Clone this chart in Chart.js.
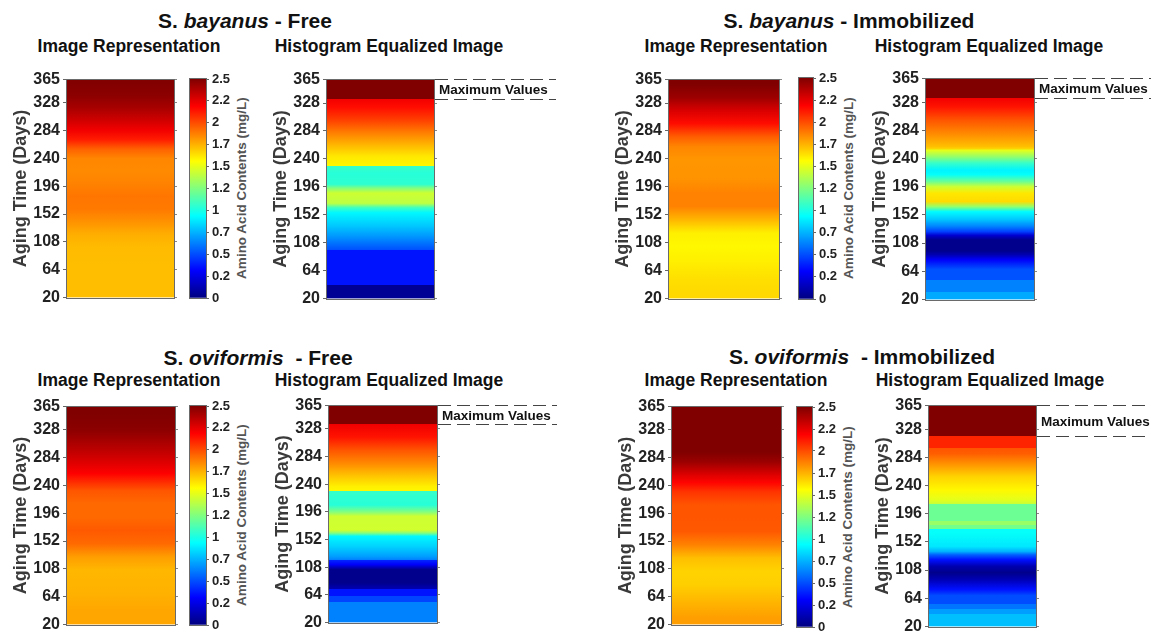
<!DOCTYPE html>
<html><head><meta charset="utf-8">
<script src="https://cdn.jsdelivr.net/npm/chart.js@4/dist/chart.umd.min.js"></script>
<style>
html,body{margin:0;padding:0;background:#fff;width:1151px;height:634px;overflow:hidden;position:relative;font-family:'Liberation Sans',Arial,sans-serif;}
canvas{position:absolute;}
.t{position:absolute;white-space:nowrap;transform:translate(-50%,-50%);line-height:1;font-weight:bold;color:#111;}
.g{font-size:21px;}
.s{font-size:17.5px;}
.cbl{position:absolute;white-space:nowrap;transform:translate(-50%,-50%) rotate(-90deg);font-weight:bold;font-size:13.5px;color:#555;line-height:1;}
</style></head><body>
<div class="t g" style="left:245px;top:20px">S. <i>bayanus</i> - Free</div>
<div class="t g" style="left:849px;top:20px">S. <i>bayanus</i> - Immobilized</div>
<div class="t g" style="left:258px;top:357px">S. <i style="margin-right:6px">oviformis</i> - Free</div>
<div class="t g" style="left:862px;top:356px">S. <i style="margin-right:6px">oviformis</i> - Immobilized</div>
<div class="t s" style="left:129px;top:47px">Image Representation</div>
<div class="t s" style="left:389px;top:47px">Histogram Equalized Image</div>
<div class="t s" style="left:736px;top:47px">Image Representation</div>
<div class="t s" style="left:989px;top:47px">Histogram Equalized Image</div>
<div class="t s" style="left:129px;top:381px">Image Representation</div>
<div class="t s" style="left:389px;top:381px">Histogram Equalized Image</div>
<div class="t s" style="left:736px;top:381px">Image Representation</div>
<div class="t s" style="left:990px;top:381px">Histogram Equalized Image</div>
<div class="cbl" style="left:242px;top:188px">Amino Acid Contents (mg/L)</div>
<div class="cbl" style="left:849px;top:188px">Amino Acid Contents (mg/L)</div>
<div class="cbl" style="left:242px;top:515px">Amino Acid Contents (mg/L)</div>
<div class="cbl" style="left:848px;top:517px">Amino Acid Contents (mg/L)</div>
<script>
// ---- tick labels ----
const tickDays = [20, 64, 108, 152, 196, 240, 284, 328, 365];
const cbTicks = [0, 0.25, 0.5, 0.75, 1, 1.25, 1.5, 1.75, 2, 2.25, 2.5];
const cbTickLabels = ['0', '0.2', '0.5', '0.7', '1', '1.2', '1.5', '1.7', '2', '2.2', '2.5'];
const cbMin = 0, cbMax = 2.5;

// ---- S. bayanus - Free ----
const bayFreeImgDays = [20, 60, 100, 120, 140, 160, 180, 200, 220, 240, 255, 270, 285, 300, 320, 340, 365];
const bayFreeImgVals = [1.72, 1.72, 1.73, 1.76, 1.83, 1.89, 1.90, 1.87, 1.85, 1.86, 1.95, 2.12, 2.22, 2.30, 2.40, 2.47, 2.50];
const bayFreeHistDays = [20, 41, 41, 96, 96, 120, 134, 155, 163, 170, 186, 194, 200, 217, 228, 228, 244, 259, 280, 301, 322, 335, 335, 365];
const bayFreeHistVals = [0.05, 0.05, 0.36, 0.36, 0.5, 0.7, 0.8, 0.92, 1.09, 1.4, 1.44, 1.25, 1.05, 1.03, 1.07, 1.58, 1.62, 1.72, 1.87, 2.03, 2.16, 2.22, 2.5, 2.5];

// ---- S. bayanus - Immobilized ----
const bayImmImgDays = [20, 50, 80, 102, 123, 144, 165, 186, 207, 238, 259, 275, 296, 316, 337, 358, 365];
const bayImmImgVals = [1.66, 1.64, 1.6, 1.58, 1.6, 1.74, 1.87, 1.87, 1.83, 1.82, 1.86, 1.96, 2.16, 2.28, 2.43, 2.5, 2.5];
const bayImmHistDays = [20, 32, 32, 50, 50, 67, 82, 90, 96, 113, 120, 126, 134, 145, 157, 165, 173, 186, 196, 204, 215, 222, 233, 243, 253, 256, 259, 279, 300, 321, 335, 335, 365];
const bayImmHistVals = [0.73, 0.73, 0.63, 0.63, 0.51, 0.51, 0.3, 0.12, 0.03, 0.03, 0.2, 0.47, 0.63, 0.8, 0.93, 1.3, 1.65, 1.62, 1.44, 1.2, 0.95, 0.91, 1.07, 1.3, 1.5, 1.68, 1.72, 1.85, 1.98, 2.14, 2.22, 2.5, 2.5];

// ---- S. oviformis - Free ----
const oviFreeImgDays = [20, 40, 75, 106, 127, 148, 169, 190, 211, 232, 248, 259, 275, 296, 328, 354, 365];
const oviFreeImgVals = [1.78, 1.78, 1.75, 1.74, 1.80, 1.93, 1.97, 1.93, 1.93, 1.98, 2.1, 2.19, 2.26, 2.35, 2.47, 2.5, 2.5];
const oviFreeHistDays = [20, 53, 53, 62, 62, 73, 73, 83, 104, 112, 119, 119, 125, 141, 157, 162, 167, 189, 196, 207, 220, 229, 229, 236, 252, 273, 294, 315, 335, 335, 365];
const oviFreeHistVals = [0.63, 0.63, 0.48, 0.48, 0.36, 0.36, 0.13, 0.03, 0.03, 0.3, 0.4, 0.62, 0.7, 0.83, 0.92, 1.25, 1.45, 1.44, 1.25, 1.03, 1.05, 1.07, 1.58, 1.6, 1.7, 1.85, 1.98, 2.14, 2.22, 2.5, 2.5];

// ---- S. oviformis - Immobilized ----
const oviImmImgDays = [20, 30, 57, 83, 104, 125, 146, 167, 188, 209, 230, 245, 261, 277, 293, 365];
const oviImmImgVals = [1.8, 1.8, 1.74, 1.68, 1.67, 1.72, 1.87, 1.97, 1.98, 1.98, 2.06, 2.18, 2.3, 2.43, 2.5, 2.5];
const oviImmHistDays = [20, 39, 39, 47, 47, 55, 55, 68, 78, 93, 104, 114, 124, 132, 137, 145, 166, 172, 172, 179, 179, 184, 184, 211, 211, 218, 233, 254, 274, 290, 298, 298, 317, 317, 365];
const oviImmHistVals = [0.78, 0.78, 0.7, 0.7, 0.6, 0.6, 0.5, 0.5, 0.35, 0.13, 0.03, 0.12, 0.35, 0.55, 0.75, 0.88, 0.95, 0.95, 1.22, 1.22, 1.31, 1.31, 1.2, 1.2, 1.42, 1.5, 1.58, 1.67, 1.83, 1.96, 1.98, 2.1, 2.1, 2.5, 2.5];

// jet colormap anchor points on the 0..2.5 scale
const jetAnchors = [0, 0.3125, 0.9375, 1.5625, 2.1875, 2.5];

function jet(v) {
  const t = Math.max(0, Math.min(1, (v - cbMin) / (cbMax - cbMin)));
  const c = x => Math.round(255 * Math.max(0, Math.min(1, x)));
  return `rgb(${c(1.5 - Math.abs(4 * t - 3))},${c(1.5 - Math.abs(4 * t - 2))},${c(1.5 - Math.abs(4 * t - 1))})`;
}

function gradFill(ctx, keys, vals, scaleId) {
  const chart = ctx.chart;
  if (!chart.chartArea) return jet(vals[0]);
  const y = chart.scales[scaleId];
  const y0 = y.getPixelForValue(keys[0]);
  const y1 = y.getPixelForValue(keys[keys.length - 1]);
  const g = chart.ctx.createLinearGradient(0, y0, 0, y1);
  keys.forEach((k, i) => {
    const p = (y.getPixelForValue(k) - y0) / (y1 - y0);
    g.addColorStop(Math.min(1, Math.max(0, p)), jet(vals[i]));
  });
  return g;
}

const framePlugin = {
  id: 'frame',
  afterDatasetsDraw(chart) {
    const { ctx, chartArea: a } = chart;
    ctx.save();
    ctx.strokeStyle = '#6a6a6a';
    ctx.lineWidth = 1;
    ctx.strokeRect(Math.round(a.left) - 0.5, Math.round(a.top) - 0.5, Math.round(a.right - a.left) + 1, Math.round(a.bottom - a.top) + 1);
    ctx.restore();
  }
};

const maxPlugin = {
  id: 'maxv',
  afterDraw(chart, args, o) {
    if (!o || o.top === undefined) return;
    const { ctx, chartArea: a } = chart;
    const y = chart.scales.y;
    const yt = Math.round(y.getPixelForValue(o.top)) - 0.5;
    const yb = Math.round(y.getPixelForValue(o.bottom)) + 0.5;
    ctx.save();
    ctx.strokeStyle = '#444';
    ctx.lineWidth = 1;
    ctx.setLineDash([13, 6]);
    ctx.beginPath();
    ctx.moveTo(a.right + 1, yt); ctx.lineTo(chart.width, yt);
    ctx.moveTo(a.right + 1, yb); ctx.lineTo(chart.width, yb);
    ctx.stroke();
    ctx.setLineDash([]);
    ctx.fillStyle = '#111';
    ctx.font = "bold 13.5px 'Liberation Sans', Arial, sans-serif";
    ctx.textBaseline = 'middle';
    ctx.textAlign = 'left';
    ctx.fillText('Maximum Values', a.right + 5, (yt + yb) / 2 + 1);
    ctx.restore();
  }
};

const tickFont = { family: "'Liberation Sans', Arial, sans-serif", weight: 'bold', size: 16 };

function makeCanvas(left, top, w, h) {
  const c = document.createElement('canvas');
  c.width = w; c.height = h;
  c.style.left = left + 'px'; c.style.top = top + 'px';
  c.style.width = w + 'px'; c.style.height = h + 'px';
  document.body.appendChild(c);
  return c;
}

function heatChart(box, days, vals, lineTo) {
  const AX = 57, PT = 12, PB = 12, RA = 6;
  const pw = box.r - box.l, ph = box.b - box.t;
  const extra = lineTo ? (lineTo - box.r) : RA + 4;
  const w = AX + pw + extra, h = ph + PT + PB;
  const canvas = makeCanvas(box.l - AX, box.t - PT, w, h);
  const setTicks = s => { s.ticks = tickDays.map(v => ({ value: v })); };
  let maxOpts = {};
  if (lineTo) {
    const idx = vals.findIndex(v => v >= cbMax);
    maxOpts = { top: days[days.length - 1], bottom: days[idx] };
  }
  return new Chart(canvas, {
    type: 'bar',
    data: {
      labels: [''],
      datasets: [{
        data: [[days[0], days[days.length - 1]]],
        backgroundColor: ctx => gradFill(ctx, days, vals, 'y'),
        borderWidth: 0,
        barPercentage: 1,
        categoryPercentage: 1
      }]
    },
    options: {
      responsive: false, animation: false, events: [],
      devicePixelRatio: 1,
      layout: { padding: { left: 0, top: PT, bottom: PB, right: w - AX - pw - RA } },
      plugins: { legend: { display: false }, tooltip: { enabled: false }, maxv: maxOpts },
      scales: {
        x: { display: false },
        y: {
          type: 'linear', position: 'left', min: tickDays[0], max: tickDays[tickDays.length - 1],
          afterBuildTicks: setTicks,
          afterFit: s => { s.width = AX; },
          ticks: { font: tickFont, color: '#222', padding: 3, autoSkip: false },
          grid: { drawOnChartArea: false, drawTicks: true, tickLength: 4, color: '#666' },
          border: { display: false },
          title: { display: true, text: 'Aging Time (Days)', color: '#3a3a3a', padding: 0,
                   font: { family: "'Liberation Sans', Arial, sans-serif", weight: 'bold', size: 18 } }
        },
        y2: {
          type: 'linear', position: 'right', min: tickDays[0], max: tickDays[tickDays.length - 1],
          afterBuildTicks: setTicks,
          afterFit: s => { s.width = RA; },
          ticks: { display: false },
          grid: { drawOnChartArea: false, drawTicks: true, tickLength: 3, color: '#888' },
          border: { display: false }
        }
      }
    },
    plugins: [framePlugin, maxPlugin]
  });
}

function colorbar(box) {
  const PL = 2, PT = 12, PB = 12, AW = 40;
  const pw = box.r - box.l, ph = box.b - box.t;
  const w = PL + pw + AW, h = ph + PT + PB;
  const canvas = makeCanvas(box.l - PL, box.t - PT, w, h);
  return new Chart(canvas, {
    type: 'bar',
    data: {
      labels: [''],
      datasets: [{
        data: [[cbMin, cbMax]],
        backgroundColor: ctx => gradFill(ctx, jetAnchors, jetAnchors, 'y'),
        borderWidth: 0, barPercentage: 1, categoryPercentage: 1
      }]
    },
    options: {
      responsive: false, animation: false, events: [],
      devicePixelRatio: 1,
      layout: { padding: { left: PL, top: PT, bottom: PB, right: 0 } },
      plugins: { legend: { display: false }, tooltip: { enabled: false } },
      scales: {
        x: { display: false },
        y: {
          type: 'linear', position: 'right', min: cbMin, max: cbMax,
          afterBuildTicks: s => { s.ticks = cbTicks.map(v => ({ value: v })); },
          afterFit: s => { s.width = AW; },
          ticks: { font: { family: "'Liberation Sans', Arial, sans-serif", weight: 'bold', size: 13 }, color: '#222', padding: 3, autoSkip: false,
                   callback: (v, i) => cbTickLabels[i] },
          grid: { drawOnChartArea: false, drawTicks: true, tickLength: 3, color: '#666' },
          border: { display: false }
        }
      }
    },
    plugins: [framePlugin]
  });
}

// S. bayanus - Free
heatChart({ l: 67, t: 79, r: 174, b: 298 }, bayFreeImgDays, bayFreeImgVals);
colorbar({ l: 190, t: 79, r: 206, b: 298 });
heatChart({ l: 327, t: 79, r: 434, b: 299 }, bayFreeHistDays, bayFreeHistVals, 556);
// S. bayanus - Immobilized
heatChart({ l: 669, t: 79, r: 779, b: 299 }, bayImmImgDays, bayImmImgVals);
colorbar({ l: 799, t: 78, r: 813, b: 299 });
heatChart({ l: 926, t: 78, r: 1034, b: 300 }, bayImmHistDays, bayImmHistVals, 1151);
// S. oviformis - Free
heatChart({ l: 67, t: 406, r: 175, b: 625 }, oviFreeImgDays, oviFreeImgVals);
colorbar({ l: 190, t: 406, r: 206, b: 625 });
heatChart({ l: 329, t: 405, r: 437, b: 623 }, oviFreeHistDays, oviFreeHistVals, 557);
// S. oviformis - Immobilized
heatChart({ l: 672, t: 406, r: 781, b: 625 }, oviImmImgDays, oviImmImgVals);
colorbar({ l: 797, t: 407, r: 812, b: 627 });
heatChart({ l: 929, t: 405, r: 1036, b: 627 }, oviImmHistDays, oviImmHistVals, 1151);
</script>
</body></html>
